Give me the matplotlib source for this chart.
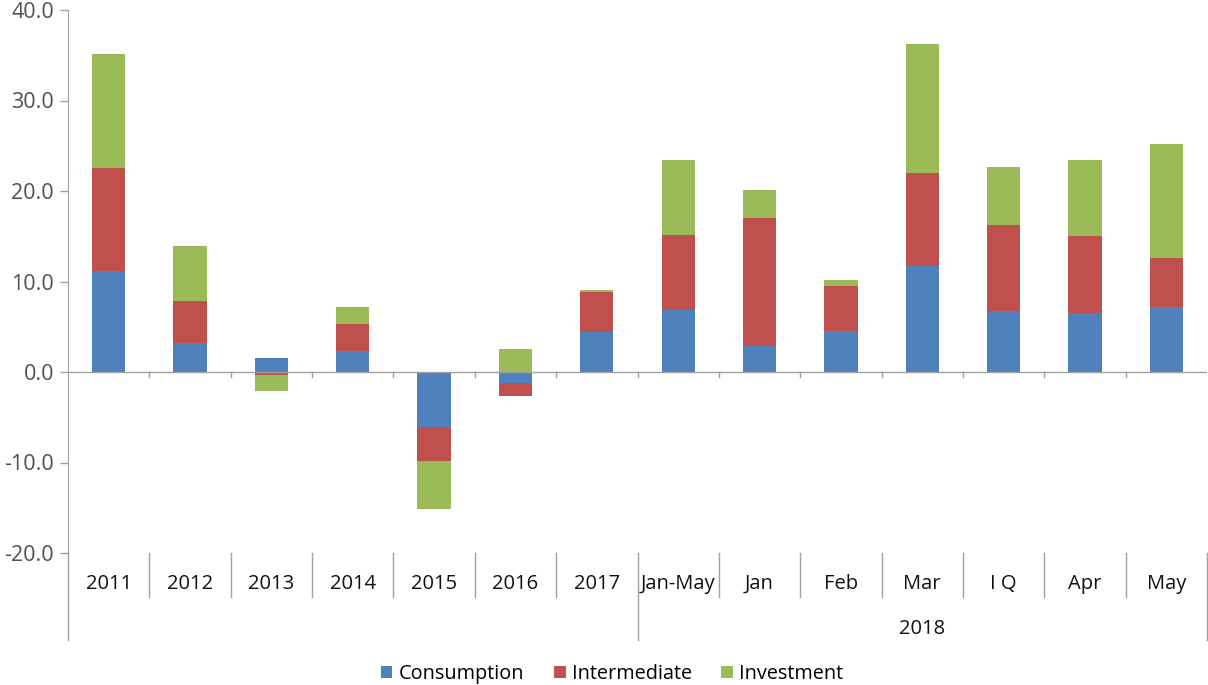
import matplotlib
matplotlib.use("Agg")
import matplotlib.pyplot as plt
import numpy as np
from matplotlib.lines import Line2D
from matplotlib.patches import Patch

categories = ["2011", "2012", "2013", "2014", "2015", "2016", "2017",
              "Jan-May", "Jan", "Feb", "Mar", "I Q", "Apr", "May"]
group_label = "2018"
consumption = [11.2, 3.2, 1.6, 2.3, -6.1, -1.2, 4.4, 6.9, 2.9, 4.5, 11.7, 6.7, 6.5, 7.2]
intermediate = [11.3, 4.6, -0.3, 3.0, -3.7, -1.4, 4.4, 8.2, 14.1, 5.0, 10.3, 9.5, 8.5, 5.4]
investment = [12.6, 6.1, -1.8, 1.9, -5.3, 2.5, 0.3, 8.3, 3.1, 0.7, 14.2, 6.5, 8.4, 12.6]
series_names = ["Consumption", "Intermediate", "Investment"]
colors = ["#4F81BD", "#C0504D", "#9BBB59"]

plt.rcParams['font.family'] = ['Open Sans', 'DejaVu Sans']

W, H = 1208, 685
fig = plt.figure(figsize=(W / 100, H / 100), dpi=100)
left, right, top, bottom = 68, 1207, 10, 553
ax = fig.add_axes([left / W, 1 - bottom / H, (right - left) / W, (bottom - top) / H])

n = len(categories)
x = np.arange(n)
pos_base = np.zeros(n)
neg_base = np.zeros(n)
for vals, c in zip([consumption, intermediate, investment], colors):
    v = np.array(vals)
    base = np.where(v >= 0, pos_base, neg_base)
    ax.bar(x, v, bottom=base, width=0.41, color=c, zorder=2)
    pos_base = pos_base + np.where(v >= 0, v, 0)
    neg_base = neg_base + np.where(v < 0, v, 0)

ax.set_xlim(-0.5, n - 0.5)
ax.set_ylim(-20, 40)
ax.set_yticks(np.arange(-20, 41, 10))
ax.set_yticklabels([f"{t:.1f}" for t in np.arange(-20, 41, 10)])
ax.tick_params(axis='y', labelsize=15.5, labelcolor='#505050', length=6, color='#A0A0A0', width=1, pad=4)
ax.set_xticks([])
for s in ["top", "right", "bottom"]:
    ax.spines[s].set_visible(False)
ax.spines["left"].set_color('#A0A0A0')

# zero line with downward ticks
ax.axhline(0, color='#A0A0A0', lw=1, zorder=3)
for b in np.arange(0.5, n - 0.5, 1):
    ax.plot([b, b], [0, -0.6], color='#A0A0A0', lw=1, zorder=3, clip_on=False)

# category label area (in pixels below axes)
trans = ax.get_xaxis_transform()
px = 1.0 / (bottom - top)  # axes fraction per pixel
y_row1 = -(584 - bottom) * px
y_sep_top = 0.0
y_sep_bot = -(597 - bottom) * px
y_long_bot = -(640 - bottom) * px
y_row2 = -(629 - bottom) * px

for i, cat in enumerate(categories):
    ax.text(i, y_row1, cat, transform=trans, ha='center', va='center', fontsize=14.5, color='#111111')
for b in np.arange(0.5, n - 0.5, 1):
    bot = y_long_bot if b == 6.5 else y_sep_bot
    ax.add_line(Line2D([b, b], [y_sep_top, bot], transform=trans, color='#A0A0A0', lw=1, clip_on=False))
ax.add_line(Line2D([n - 0.5, n - 0.5], [y_sep_top, y_long_bot], transform=trans, color='#A0A0A0', lw=1, clip_on=False))
ax.add_line(Line2D([-0.5, -0.5], [y_sep_top, y_long_bot], transform=trans, color='#A0A0A0', lw=1, clip_on=False))
ax.text((7 + n - 1) / 2, y_row2, group_label, transform=trans, ha='center', va='center', fontsize=14.5, color='#111111')

handles = [Patch(facecolor=c, edgecolor='none') for c in colors]
fig.legend(handles, series_names, loc='center', bbox_to_anchor=(612 / W, 1 - 674 / H), ncol=3,
           frameon=False, fontsize=14.3, handlelength=0.6, handleheight=0.6, handletextpad=0.3,
           columnspacing=1.5)

fig.savefig("out.png", dpi=100)
